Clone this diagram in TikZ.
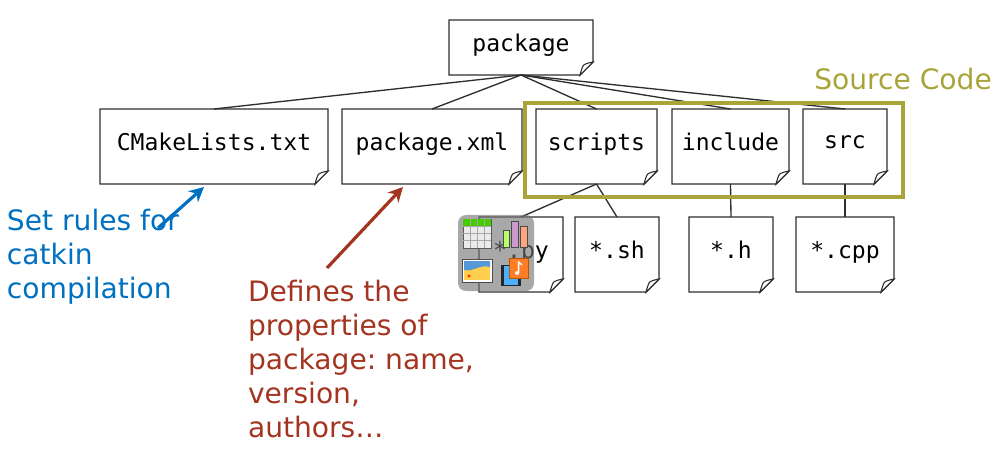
\documentclass[tikz,border=0pt]{standalone}
\usepackage{fontspec}
\setmainfont{DejaVu Sans}
\newfontfamily\filefont{DejaVu Sans Mono}
\usetikzlibrary{arrows.meta,calc}
\frenchspacing
\definecolor{srcol}{HTML}{A9A43A}
\definecolor{blueann}{HTML}{0070C0}
\definecolor{redann}{HTML}{A33520}
\definecolor{edgecol}{HTML}{2E2E2E}
\tikzset{
  filebox/.style={inner sep=0pt,outer sep=0pt,font=\filefont\fontsize{17.3}{20}\selectfont,text=black},
  link/.style={draw=edgecol,line width=1pt},
  note/.style={inner sep=0pt,outer sep=0pt,anchor=north west,align=left,font=\fontsize{21.1}{25.5}\selectfont},
  pointer/.style={line width=2.4pt,-{Stealth[length=11pt,width=11pt]}},
}
\begin{document}
\begin{tikzpicture}[x=0.75pt,y=-0.75pt]
\useasboundingbox (0,0) rectangle (998,452);
\def\nodeat#1#2#3#4#5#6{%
  \node[filebox,minimum width=0.75pt*(#4-#2),minimum height=0.75pt*(#5-#3)] (#1) at ({(#2+#4)/2},{(#3+#5)/2}) {\raisebox{6.8pt}{#6}};
  \draw[edgecol,line width=1.05pt]
    (#2,#3) -- (#4,#3) -- (#4,#5-13) -- (#4-13,#5) -- (#2,#5) -- cycle;
  \draw[edgecol,line width=0.8pt,fill=white]
    (#4,#5-13) .. controls (#4-5,#5-12) and (#4-9,#5-11) .. (#4-10,#5-9)
    .. controls (#4-11,#5-7) and (#4-12,#5-4) .. (#4-13,#5) -- cycle;
}
\nodeat{package}{449}{20}{593}{75}{package}
\nodeat{cmake}{100}{109}{328}{184}{CMakeLists.txt}
\nodeat{pkgxml}{342}{109}{522}{184}{package.xml}
\nodeat{scripts}{536}{109}{657}{184}{scripts}
\nodeat{include}{672}{109}{789}{184}{include}
\nodeat{src}{803}{109}{887}{184}{src}
\nodeat{py}{479}{217}{563}{292}{*.py}
\nodeat{sh}{575}{217}{659}{292}{*.sh}
\nodeat{h}{689}{217}{773}{292}{*.h}
\nodeat{cpp}{796}{217}{894}{292}{*.cpp}
\foreach \t in {cmake,pkgxml,scripts,include,src}
  \draw[link] (package.south) -- (\t.north);
\draw[link] (scripts.south) -- (py.north);
\draw[link] (scripts.south) -- (sh.north);
\draw[link] (include.south) -- (h.north);
\draw[link] (src.south) -- (cpp.north);
% source code frame
\node[draw=srcol,line width=2.4pt,inner sep=0pt,minimum width=283.5pt,minimum height=70.5pt] (frame) at (714,150) {};
\node[inner sep=0pt,anchor=base west,text=srcol,font=\fontsize{21.1}{25.5}\selectfont] (srclabel) at (814,90) {Source Code};
% notes
\node[note,text=blueann] (bluenote) at (7,209) {Set rules for\\catkin\\compilation};
\node[note,text=redann] (rednote) at (248,280) {Defines the\\properties of\\package: name,\\version,\\authors\dots};
\coordinate (bluestart) at (158,228);
\coordinate (bluetip) at (204,187);
\coordinate (redstart) at (327,268);
\coordinate (redtip) at (403,187);
\draw[pointer,blueann] (bluestart) -- (bluetip);
\draw[pointer,redann] (redstart) -- (redtip);
% icon
\fill[black!55,fill opacity=0.62,rounded corners=6] (458,215) rectangle (534,291);
\fill[white!92!black,draw=gray!70!black,line width=0.4pt] (463,219) rectangle (491,248);
\fill[green!55!lime!80!black] (463,219) rectangle (491,226);
\foreach \x in {470,477,484} \draw[gray!70,line width=0.4pt] (\x,219) -- (\x,248);
\foreach \y in {226,233,240} \draw[gray!70,line width=0.4pt] (463,\y) -- (491,\y);
\fill[lime!70!green!60!white,draw=gray!60!black,line width=0.4pt] (503,230) rectangle (509,247);
\fill[violet!40!white,draw=gray!60!black,line width=0.4pt] (511,221) rectangle (518,247);
\fill[red!40!orange!50!white,draw=gray!60!black,line width=0.4pt] (520,226) rectangle (527,247);
\fill[white,draw=black!70,line width=0.4pt] (462,259) rectangle (492,282);
\fill[orange!55!yellow!70!white] (464,261) rectangle (490,280);
\fill[cyan!60!blue!70!white] (464,261) -- (490,261) -- (490,267) .. controls (480,264) and (474,272) .. (464,270) -- cycle;
\fill[red!70!orange] (469,276) circle (1.6);
\fill[black!85] (501,265) rectangle (521,286);
\fill[blue!45!cyan!70!white] (504,266) rectangle (518,285);
\fill[orange!80!red!85!white,draw=orange!70!black,line width=0.4pt] (509,258) rectangle (528,278);
\fill[white] (517,273) circle (2);
\draw[white,line width=1pt] (518.6,273) -- (518.6,262) -- (522,265);
\end{tikzpicture}
\end{document}
